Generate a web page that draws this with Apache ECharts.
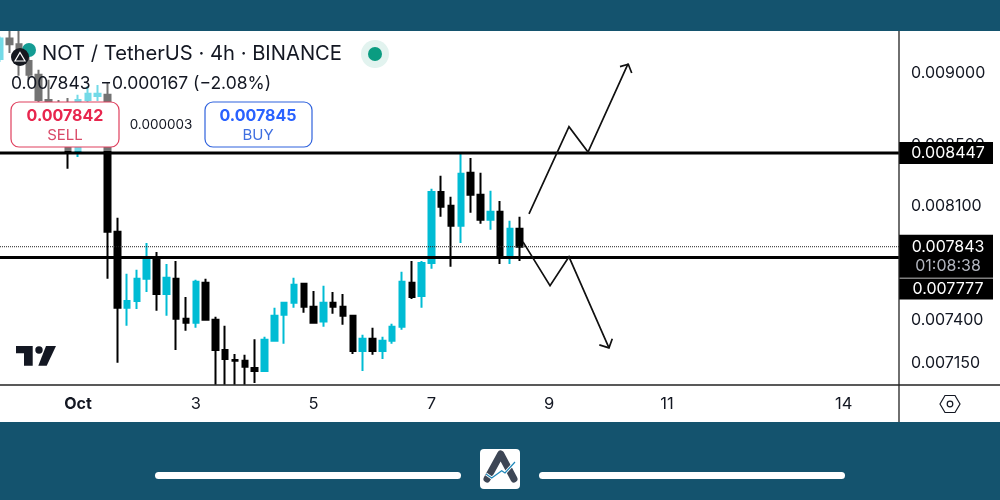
<!DOCTYPE html>
<html>
<head>
<meta charset="utf-8">
<style>
  html, body { margin: 0; padding: 0; background: #14536e; }
  #chart { width: 1000px; height: 500px; }
</style>
</head>
<body>
<div id="chart"></div>
<script src="https://cdn.jsdelivr.net/npm/echarts@6/dist/echarts.min.js"></script>
<script>
const FONT = 'Inter, Roboto, sans-serif'
const INK = '#131722'

// 4h candles, the first one opens 32h before Oct 1
const opens = [0.009101, 0.009250, 0.009208, 0.009087, 0.008988, 0.008810, 0.008783, 0.008630, 0.008448, 0.008810, 0.008838, 0.008846, 0.007936, 0.007472, 0.007513, 0.007646, 0.007780, 0.007555, 0.007646, 0.007408, 0.007385, 0.007622, 0.007402, 0.007227, 0.007170, 0.007165, 0.007125, 0.007108, 0.007280, 0.007432, 0.007502, 0.007616, 0.007478, 0.007391, 0.007502, 0.007478, 0.007426, 0.007221, 0.007291, 0.007221, 0.007280, 0.007361, 0.007622, 0.007543, 0.007743, 0.008191, 0.008101, 0.007974, 0.008316, 0.008172, 0.008012, 0.008063, 0.007785, 0.007955]
const closes = [0.009250, 0.009208, 0.009087, 0.008988, 0.008810, 0.008783, 0.008630, 0.008454, 0.008810, 0.008853, 0.008853, 0.007936, 0.007472, 0.007513, 0.007646, 0.007780, 0.007555, 0.007652, 0.007408, 0.007385, 0.007628, 0.007402, 0.007227, 0.007176, 0.007165, 0.007131, 0.007108, 0.007285, 0.007426, 0.007502, 0.007610, 0.007478, 0.007385, 0.007502, 0.007478, 0.007426, 0.007221, 0.007291, 0.007221, 0.007280, 0.007361, 0.007628, 0.007537, 0.007743, 0.008191, 0.008095, 0.007974, 0.008310, 0.008172, 0.008012, 0.008063, 0.007785, 0.007955, 0.007843]
// wicks that run off the pane stop at the pane edge
const lows = [0.009080, 0.009144, 0.008980, 0.008952, 0.008783, 0.008673, 0.008604, 0.008342, 0.008421, 0.008796, 0.008803, 0.007646, 0.007154, 0.007367, 0.007466, 0.007567, 0.007455, 0.007426, 0.007227, 0.007338, 0.007355, 0.007396, 0.007030, 0.007030, 0.007030, 0.007030, 0.007040, 0.007105, 0.007274, 0.007262, 0.007472, 0.007443, 0.007379, 0.007361, 0.007437, 0.007373, 0.007204, 0.007108, 0.007199, 0.007176, 0.007262, 0.007344, 0.007525, 0.007472, 0.007707, 0.008031, 0.007719, 0.007866, 0.008057, 0.007987, 0.007949, 0.007737, 0.007737, 0.007755]
const highs = [0.009264, 0.009305, 0.009305, 0.009166, 0.009023, 0.008952, 0.008810, 0.008824, 0.008846, 0.008909, 0.008916, 0.008931, 0.008025, 0.007677, 0.007701, 0.007866, 0.007810, 0.007737, 0.007755, 0.007537, 0.007640, 0.007646, 0.007420, 0.007367, 0.007204, 0.007199, 0.007289, 0.007303, 0.007472, 0.007507, 0.007652, 0.007622, 0.007573, 0.007604, 0.007567, 0.007555, 0.007432, 0.007315, 0.007355, 0.007303, 0.007379, 0.007689, 0.007755, 0.007755, 0.008211, 0.008296, 0.008159, 0.008454, 0.008414, 0.008316, 0.008198, 0.008133, 0.008006, 0.008031]

const priceTicks = [0.00715, 0.0074, 0.0081, 0.0085, 0.009]
// x axis is days after Oct 1
const dateTicks = [0, 2, 4, 6, 8, 10, 13]
const dateLabels = ['Oct', '3', '5', '7', '9', '11', '14']

const upperLevel = 0.008447
const lowerLevel = 0.007777
const lastPrice = 0.007843
const countdown = '01:08:38'

// hand drawn paths, days after Oct 1 and price
const upDays = [7.657, 8.336, 8.659, 9.338]
const upPrices = [0.008050, 0.008625, 0.008454, 0.009066]
const upHeadDays = [9.202, 9.343, 9.401]
const upHeadPrices = [0.009046, 0.009063, 0.009000]
const downDays = [7.555, 8.014, 8.336, 9.015]
const downPrices = [0.007873, 0.007604, 0.007780, 0.007239]
const downHeadDays = [8.851, 9.015, 9.071]
const downHeadPrices = [0.007256, 0.007239, 0.007291]

const candles = opens.map((o, i) => [(i - 8) / 6, o, closes[i], lows[i], highs[i]])
const xMin = -1.3243
const xMax = 13.939

function pathSeries (days, prices) {
  return {
    type: 'line',
    data: days.map((d, i) => [d, prices[i]]),
    symbol: 'none',
    z: 5,
    lineStyle: { color: '#111', width: 1.7, join: 'miter' }
  }
}

function levelSeries (price, width, type, color) {
  return {
    type: 'line',
    data: [[xMin, price], [xMax, price]],
    symbol: 'none',
    z: 4,
    lineStyle: { color, width, type }
  }
}

function tag (price, text, h, dy) {
  return {
    coord: [xMax, price],
    symbol: 'rect',
    symbolSize: [94, h],
    symbolOffset: [47, dy],
    itemStyle: { color: '#000' },
    label: {
      show: true,
      position: 'inside',
      offset: [2, 0],
      formatter: text,
      rich: {
        p: { color: '#fff', fontSize: 16, fontFamily: FONT, lineHeight: 19 },
        c: { color: '#b2b5be', fontSize: 16, fontFamily: FONT, lineHeight: 19 }
      }
    }
  }
}

const txt = (x, y, text, fontSize, fill, extra) => ({
  type: 'text',
  z: 60,
  style: Object.assign({ x, y, text, fontSize, fill, fontFamily: FONT, textVerticalAlign: 'middle' }, extra)
})

const box = (x, y, width, height, r, fill, stroke, z) => ({
  type: 'rect',
  z,
  shape: { x, y, width, height, r },
  style: { fill, stroke, lineWidth: stroke ? 1.2 : 0 }
})

const seg = (x1, y1, x2, y2, z) => ({
  type: 'line',
  z,
  shape: { x1, y1, x2, y2 },
  style: { stroke: '#222', lineWidth: 1.3 }
})

const graphics = [
  // panes
  box(0, 31, 1000, 391, 0, '#fff', null, -1),
  seg(0, 385, 1000, 385, 30),
  seg(899, 31, 899, 422, 30),
  // header fade over the candles
  box(0, 31, 420, 120, 0, 'rgba(255,255,255,0.45)', null, 40),
  // symbol header
  { type: 'circle', z: 50, shape: { cx: 29, cy: 50, r: 7 }, style: { fill: '#149c94' } },
  { type: 'circle', z: 51, shape: { cx: 20, cy: 57, r: 9 }, style: { fill: '#15181f' } },
  { type: 'polygon', z: 52, shape: { points: [[20, 52.5], [25, 61], [15, 61]] }, style: { fill: 'none', stroke: '#fff', lineWidth: 1.2 } },
  txt(42, 54, 'NOT / TetherUS · 4h · BINANCE', 20.2, INK),
  { type: 'circle', z: 50, shape: { cx: 375, cy: 54, r: 14 }, style: { fill: '#e2f3ef' } },
  { type: 'circle', z: 51, shape: { cx: 375, cy: 54, r: 7 }, style: { fill: '#0b9c81' } },
  txt(11, 84, '0.007843  −0.000167 (−2.08%)', 17.5, INK),
  // sell and buy buttons
  box(11, 102, 108, 45, 8, '#fff', '#e0405e', 55),
  txt(65, 116, '0.007842', 16, '#e8264e', { fontWeight: 'bold', textAlign: 'center' }),
  txt(65, 135, 'SELL', 15, '#d94a68', { textAlign: 'center' }),
  txt(161, 125, '0.000003', 13.5, INK, { textAlign: 'center' }),
  box(205, 102, 107, 45, 8, '#fff', '#2f62dd', 55),
  txt(258, 116, '0.007845', 16, '#2962ff', { fontWeight: 'bold', textAlign: 'center' }),
  txt(258, 135, 'BUY', 15, '#3f6fe0', { textAlign: 'center' }),
  // tradingview mark
  { type: 'polygon', z: 20, shape: { points: [[16, 346], [32.7, 346], [32.7, 365.7], [24, 365.7], [24, 353.3], [16, 353.3]] }, style: { fill: INK } },
  { type: 'circle', z: 20, shape: { cx: 39, cy: 350, r: 3.7 }, style: { fill: INK } },
  { type: 'polygon', z: 20, shape: { points: [[46, 346], [56, 346], [46.7, 365.7], [38.3, 365.7]] }, style: { fill: INK } },
  // settings hexagon
  { type: 'polygon', z: 31, shape: { points: [[940, 404], [945, 395.5], [955, 395.5], [960, 404], [955, 412.5], [945, 412.5]] }, style: { fill: 'none', stroke: INK, lineWidth: 1.2 } },
  { type: 'circle', z: 31, shape: { cx: 950, cy: 404, r: 2.8 }, style: { fill: 'none', stroke: INK, lineWidth: 1.2 } },
  // footer
  box(155, 472, 306, 7, 3.5, '#fff', null, 5),
  box(539, 472, 306, 7, 3.5, '#fff', null, 5),
  box(480, 449, 40, 40, 4, '#fff', null, 5),
  { type: 'polyline', z: 6, shape: { points: [[487, 479], [500.7, 454], [514, 479]] }, style: { fill: 'none', stroke: '#3d4655', lineWidth: 7, lineCap: 'round', lineJoin: 'round' } },
  { type: 'polyline', z: 7, shape: { points: [[486, 474], [491.7, 478], [501.7, 470.7], [505, 473], [515, 462]] }, style: { fill: 'none', stroke: '#fff', lineWidth: 3 } },
  { type: 'polyline', z: 8, shape: { points: [[486, 474], [491.7, 478], [501.7, 470.7], [505, 473], [515, 462]] }, style: { fill: 'none', stroke: '#1d86b8', lineWidth: 1.2 } }
]

const myChart = echarts.init(document.getElementById('chart'))
myChart.setOption({
  animation: false,
  backgroundColor: '#14536e',
  grid: { left: 0, top: 31, width: 899, height: 354 },
  xAxis: {
    type: 'value',
    min: xMin,
    max: xMax,
    splitLine: { show: false },
    axisLine: { show: false },
    axisTick: { show: false },
    axisLabel: {
      customValues: dateTicks,
      margin: 11,
      color: INK,
      fontSize: 16.5,
      fontFamily: FONT,
      formatter: v => {
        const label = dateLabels[dateTicks.indexOf(Number(v))]
        return label === 'Oct' ? '{b|Oct}' : label
      },
      rich: { b: { fontWeight: 'bold', fontSize: 16, fontFamily: FONT, color: INK } }
    }
  },
  yAxis: {
    type: 'log',
    position: 'right',
    min: 0.007029,
    max: 0.009305,
    splitLine: { show: false },
    axisLine: { show: false },
    axisTick: { show: false },
    axisLabel: {
      customValues: priceTicks,
      margin: 12,
      color: INK,
      fontSize: 16,
      fontFamily: FONT,
      formatter: v => Number(v).toFixed(6)
    }
  },
  graphic: graphics,
  series: [
    {
      type: 'candlestick',
      layout: 'horizontal',
      data: candles,
      encode: { x: 0, y: [1, 2, 3, 4] },
      barWidth: 6,
      itemStyle: {
        color: '#00bcd4',
        borderColor: '#00bcd4',
        color0: '#000',
        borderColor0: '#000',
        borderWidth: 2
      },
      markPoint: {
        silent: true,
        data: [
          tag(upperLevel, '{p|' + upperLevel.toFixed(6) + '}', 22, 0),
          tag(lastPrice, '{p|' + lastPrice.toFixed(6) + '}\n{c|' + countdown + '}', 43, 9.5),
          tag(lowerLevel, '{p|' + lowerLevel.toFixed(6) + '}', 21, 31.5)
        ]
      }
    },
    levelSeries(upperLevel, 3, 'solid', '#000'),
    levelSeries(lowerLevel, 3, 'solid', '#000'),
    levelSeries(lastPrice, 1, 'dotted', '#222'),
    pathSeries(upDays, upPrices),
    pathSeries(upHeadDays, upHeadPrices),
    pathSeries(downDays, downPrices),
    pathSeries(downHeadDays, downHeadPrices)
  ]
})
</script>
</body>
</html>
